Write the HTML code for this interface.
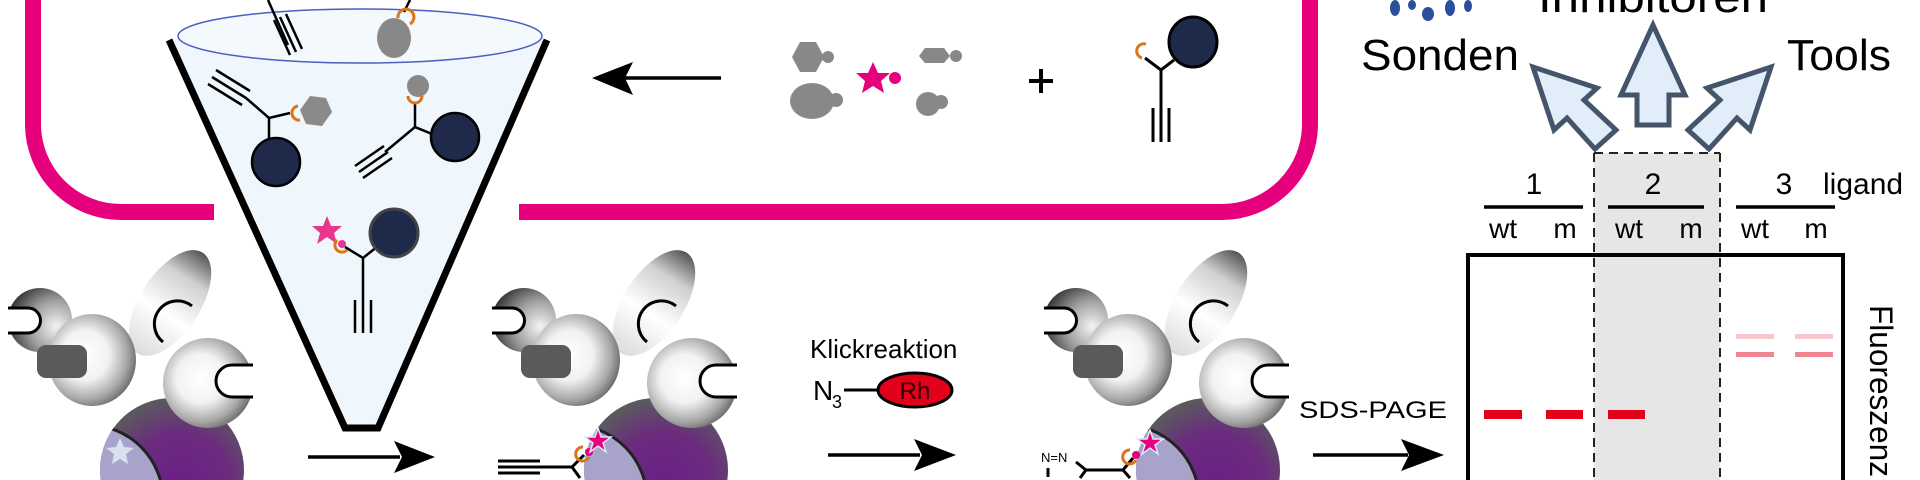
<!DOCTYPE html>
<html><head><meta charset="utf-8"><style>
html,body{margin:0;padding:0;background:#fff;width:1920px;height:480px;overflow:hidden}
svg{display:block;overflow:hidden}
text{font-family:"Liberation Sans",Arial,sans-serif}
</style></head><body>
<svg width="1920" height="480" viewBox="0 0 1920 480" xmlns="http://www.w3.org/2000/svg">
<defs>
<radialGradient id="sph" cx="0.42" cy="0.45" r="0.6">
<stop offset="0" stop-color="#ffffff"/><stop offset="0.45" stop-color="#f2f2f2"/><stop offset="0.8" stop-color="#a8a8a8"/><stop offset="1" stop-color="#6a6a6a"/></radialGradient>
<radialGradient id="dk" cx="0.75" cy="0.6" r="0.8">
<stop offset="0" stop-color="#f4f4f4"/><stop offset="0.5" stop-color="#a0a0a0"/><stop offset="1" stop-color="#2a2a2a"/></radialGradient>
<linearGradient id="ov" x1="0" y1="0.5" x2="1" y2="0.5">
<stop offset="0" stop-color="#dcdcdc"/><stop offset="0.4" stop-color="#ffffff"/><stop offset="0.75" stop-color="#d0d0d0"/><stop offset="1" stop-color="#555"/></linearGradient>
<radialGradient id="pur" cx="0.55" cy="0.6" r="0.6">
<stop offset="0" stop-color="#6a1f86"/><stop offset="0.6" stop-color="#6b2c7e"/><stop offset="1" stop-color="#5a5a5e"/></radialGradient>
<clipPath id="pc"><circle cx="172" cy="470" r="72"/></clipPath>
<clipPath id="all"><rect x="0" y="0" width="1920" height="480"/></clipPath>
<g id="cl">
 <circle cx="40" cy="320" r="32" fill="url(#dk)"/>
 <path d="M8,308 H28 A12.5,12.5 0 0 1 28,333 H8" fill="#fff" stroke="#000" stroke-width="3"/>
 <ellipse cx="170" cy="303" rx="60" ry="30" transform="rotate(-57 170 303)" fill="url(#ov)"/>
 <path d="M192,306 A22,22 0 1 0 163,342" fill="none" stroke="#000" stroke-width="3"/>
 <ellipse cx="92" cy="360" rx="44" ry="46" fill="url(#sph)"/>
 <rect x="37" y="345" width="50" height="33" rx="9" fill="#5a5a5a"/>
 <circle cx="172" cy="470" r="72" fill="url(#pur)"/>
 <g clip-path="url(#pc)"><circle cx="88" cy="500" r="75" fill="#a7a3cb" stroke="#222" stroke-width="3"/></g>
 <circle cx="208" cy="383" r="45" fill="url(#sph)"/>
 <path d="M253,365 H232 A16,16 0 0 0 232,397 H253" fill="#fff" stroke="#000" stroke-width="3"/>
</g>
</defs>
<g clip-path="url(#all)">
<path d="M33,0 V124 A88,88 0 0 0 121,212 H214" fill="none" stroke="#e6007e" stroke-width="16"/>
<path d="M519,212 H1222 A88,88 0 0 0 1310,124 V0" fill="none" stroke="#e6007e" stroke-width="16"/>

<use href="#cl"/>
<polygon points="120,438 124,447 134,448 126,454 128,464 120,459 112,464 114,454 106,448 116,447" fill="#dfe8f3" opacity="0.9"/>
<use href="#cl" transform="translate(484,0)"/>
<use href="#cl" transform="translate(1036,0)"/>

<g stroke="#000" stroke-width="3" fill="none">
<path d="M498,461 H540 M498,467 H540 M498,473 H540"/>
<path d="M540,467 H572 L584,455 M572,467 L580,478"/>
</g>
<path d="M583,447 a7,7 0 1 0 6,10" fill="none" stroke="#d9761c" stroke-width="3"/>
<circle cx="589" cy="452" r="4" fill="#e6007e"/>
<polygon points="598,428 601,437 611,437 603,443 606,452 598,446 590,452 593,443 585,437 595,437" fill="#e6007e" stroke="#dfe8f3" stroke-width="1.5"/>

<text x="1041" y="462" font-size="13" fill="#000">N=N</text>
<g stroke="#000" stroke-width="3" fill="none">
<path d="M1076,462 L1086,470 H1123 L1133,458 M1123,470 L1130,478 M1086,470 L1080,478 M1048,468 V477"/>
</g>
<path d="M1130,450 a7,7 0 1 0 6,10" fill="none" stroke="#d9761c" stroke-width="3"/>
<circle cx="1136" cy="455" r="4" fill="#e6007e"/>
<polygon points="1150,430 1153,439 1163,439 1155,445 1158,454 1150,448 1142,454 1145,445 1137,439 1147,439" fill="#e6007e" stroke="#dfe8f3" stroke-width="1.5"/>

<path d="M169,40 L345,428 H378 L547,40 Z" fill="#eff7fc"/>
<ellipse cx="360" cy="36" rx="182" ry="27" fill="#f4f9fd" stroke="#4a5fbf" stroke-width="1.5"/>
<path d="M169,40 L345,428 H378 L547,40" fill="none" stroke="#000" stroke-width="7" stroke-linejoin="miter"/>

<g stroke="#000" stroke-width="2.5" fill="none">
 <path d="M268,0 L288,45"/>
 <path d="M274,20 L290,55 M280,17 L296,52 M286,14 L302,49"/>
 <path d="M410,0 L404,12"/>
 <path d="M208,84 L242,105 M212,77 L246,98 M216,70 L250,91"/>
 <path d="M246,98 L269,118 L290,113 M269,118 V138"/>
 <path d="M415,104 V127 L432,134 M415,127 L385,152"/>
 <path d="M355,166 L384,146 M359,172 L388,152 M363,178 L392,158"/>
 <path d="M345,247 L363,258 L378,246 M363,258 V300"/>
 <path d="M355,300 V333 M363,300 V333 M371,300 V333"/>
</g>
<ellipse cx="394" cy="38" rx="17" ry="20" fill="#888"/>
<path d="M398,18 a8,8 0 1 1 12,6" fill="none" stroke="#d9761c" stroke-width="3"/>
<polygon points="310,96 326,98 332,112 322,126 306,124 300,110" fill="#8a8a8a"/>
<path d="M298,106 a7,7 0 1 0 2,14" fill="none" stroke="#d9761c" stroke-width="3"/>
<circle cx="276" cy="162" r="24" fill="#1f2a4a" stroke="#000" stroke-width="2.5"/>
<circle cx="418" cy="86" r="11" fill="#888"/>
<path d="M408,96 a7,7 0 1 0 14,0" fill="none" stroke="#d9761c" stroke-width="3"/>
<circle cx="455" cy="137" r="24" fill="#1f2a4a" stroke="#000" stroke-width="2.5"/>
<polygon points="327,216 331,226 342,226 334,233 337,244 327,237 317,244 320,233 312,226 323,226" fill="#e8358e"/>
<path d="M337,240 a7,7 0 1 0 10,10" fill="none" stroke="#d9761c" stroke-width="3"/>
<circle cx="342" cy="244" r="4" fill="#e8358e"/>
<circle cx="394" cy="233" r="24" fill="#1f2a4a" stroke="#444" stroke-width="3"/>

<g stroke="#000" stroke-width="3.5" fill="#000">
<path d="M308,457 H400"/><polygon points="435,457 394,441 402,457 394,473" stroke="none"/>
<path d="M625,78 H721"/><polygon points="592,78 633,62 625,78 633,95" stroke="none"/>
<path d="M828,455 H920"/><polygon points="956,455 914,439 922,455 914,471" stroke="none"/>
<path d="M1313,455 H1408"/><polygon points="1444,455 1401,439 1409,455 1401,471" stroke="none"/>
</g>

<g fill="#888">
<polygon points="800,42 816,42 824,57 816,72 800,72 792,57"/><circle cx="828" cy="57" r="6"/>
<ellipse cx="812" cy="101" rx="22" ry="18"/><circle cx="836" cy="100" r="7"/>
<polygon points="925,48 944,48 950,56 944,63 925,63 919,56"/><circle cx="956" cy="56" r="6"/>
<circle cx="928" cy="104" r="12"/><circle cx="941" cy="102" r="7"/>
</g>
<polygon points="873,62 878,73 890,73 881,81 884,93 873,86 862,93 865,81 856,73 868,73" fill="#e6007e"/>
<circle cx="895" cy="78" r="6" fill="#e6007e"/>
<path d="M1029,81 H1053 M1041,69 V93" stroke="#000" stroke-width="4"/>

<ellipse cx="1193" cy="42" rx="24" ry="25" fill="#1f2a4a" stroke="#000" stroke-width="3"/>
<g stroke="#000" stroke-width="3" fill="none">
<path d="M1145,58 L1161,70 L1174,60 M1161,70 V110 M1153,108 V142 M1161,108 V142 M1169,108 V142"/></g>
<path d="M1146,44 a7,7 0 1 0 -4,14" fill="none" stroke="#d9761c" stroke-width="3"/>

<text x="810" y="358" font-size="26" fill="#000">Klickreaktion</text>
<text x="813" y="400" font-size="28" fill="#000">N</text>
<text x="832" y="408" font-size="18" fill="#000">3</text>
<path d="M844,390 H878" stroke="#000" stroke-width="3"/>
<ellipse cx="915" cy="390" rx="37" ry="17" fill="#e2001a" stroke="#000" stroke-width="3"/>
<text x="915" y="399" font-size="24" text-anchor="middle" fill="#300">Rh</text>
<text x="1299" y="418" font-size="24" textLength="148" lengthAdjust="spacingAndGlyphs" fill="#000">SDS-PAGE</text>

<g fill="#2a4f9f">
<ellipse cx="1395" cy="8" rx="5" ry="8"/><ellipse cx="1428" cy="14" rx="6" ry="7"/><ellipse cx="1450" cy="8" rx="5" ry="8"/><ellipse cx="1468" cy="6" rx="4" ry="6"/><ellipse cx="1412" cy="5" rx="4" ry="5"/></g>
<text x="1538" y="12" font-size="44" textLength="230" lengthAdjust="spacingAndGlyphs" fill="#000">Inhibitoren</text>
<text x="1361" y="70" font-size="44" textLength="158" lengthAdjust="spacingAndGlyphs" fill="#000">Sonden</text>
<text x="1787" y="70" font-size="44" textLength="104" lengthAdjust="spacingAndGlyphs" fill="#000">Tools</text>
<g fill="#e1edf8" stroke="#44546a" stroke-width="5" stroke-linejoin="miter">
<polygon points="1653,25 1685,95 1669,95 1669,125 1637,125 1637,95 1621,95"/>
<polygon points="1533,67 1597,88 1584,100 1616,130 1595,149 1567,118 1554,130"/>
<polygon points="1771,67 1707,88 1720,100 1688,130 1709,149 1737,118 1750,130"/>
</g>

<rect x="1594" y="153" width="126" height="327" fill="#e6e6e6"/>
<path d="M1594,153 H1720 M1594,153 V480 M1720,153 V480" stroke="#222" stroke-width="2" stroke-dasharray="9,6" fill="none"/>
<path d="M1468,480 V255 H1843 V480" fill="none" stroke="#000" stroke-width="4"/>
<path d="M1594,255 H1720" stroke="#000" stroke-width="4"/>
<g font-size="30" fill="#000" text-anchor="middle">
<text x="1534" y="194">1</text><text x="1653" y="194">2</text><text x="1784" y="194">3</text>
</g>
<text x="1823" y="194" font-size="30" fill="#000">ligand</text>
<path d="M1484,207 H1583 M1608,207 H1704 M1736,207 H1835" stroke="#000" stroke-width="3.5"/>
<g font-size="28" fill="#000" text-anchor="middle">
<text x="1503" y="238">wt</text><text x="1565" y="238">m</text>
<text x="1629" y="238">wt</text><text x="1691" y="238">m</text>
<text x="1755" y="238">wt</text><text x="1816" y="238">m</text>
</g>
<g fill="#e2001a">
<rect x="1484" y="410" width="38" height="9"/><rect x="1546" y="410" width="37" height="9"/><rect x="1608" y="410" width="37" height="9"/></g>
<g fill="#f7c7cd"><rect x="1736" y="334" width="38" height="5"/><rect x="1795" y="334" width="38" height="5"/></g>
<g fill="#ef8590"><rect x="1736" y="352" width="38" height="5"/><rect x="1795" y="352" width="38" height="5"/></g>
<text x="1870" y="305" font-size="32" textLength="172" lengthAdjust="spacingAndGlyphs" fill="#000" transform="rotate(90 1870 305)">Fluoreszenz</text>
</g>
</svg>
</body></html>
